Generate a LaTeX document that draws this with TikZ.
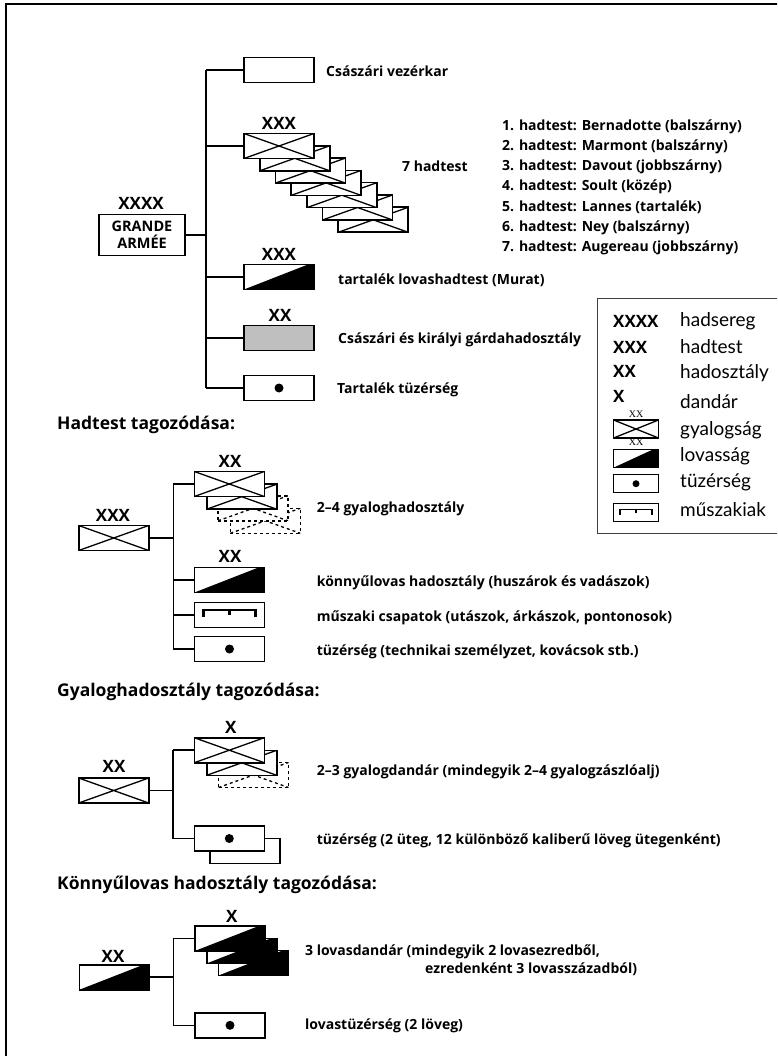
\documentclass[tikz,border=0pt]{standalone}
\usepackage{fontspec}
\setmainfont{Open Sans}
\newfontfamily\legfont{Lato}
\newfontfamily\smallserif{Liberation Serif}
\begin{document}
\begin{tikzpicture}[x=1pt,y=-1pt,
  conn/.style={line width=1.6pt},
  unitbox/.style={draw, line width=1.6pt, fill=white, minimum width=70pt, minimum height=25pt, inner sep=0pt, outer sep=0pt},
  legbox/.style={draw, line width=1.5pt, fill=white, minimum width=45pt, minimum height=18pt, inner sep=0pt, outer sep=0pt},
  infsym/.style={path picture={\draw[black, line width=1.3pt] (path picture bounding box.south west) -- (path picture bounding box.north east) (path picture bounding box.north west) -- (path picture bounding box.south east);}},
  dinfsym/.style={dashed, path picture={\draw[black, line width=1.3pt, dashed] (path picture bounding box.south west) -- (path picture bounding box.north east) (path picture bounding box.north west) -- (path picture bounding box.south east);}},
  cavsym/.style={path picture={\fill[black] (path picture bounding box.south west) -- ([xshift=-6pt]path picture bounding box.north east) -- (path picture bounding box.north east) -- (path picture bounding box.south east) -- cycle;}},
  artsym/.style={path picture={\fill[black] (path picture bounding box.center) circle (4.5pt);}},
  legartsym/.style={path picture={\fill[black] (path picture bounding box.center) circle (3.5pt);}},
  engsym/.style={path picture={\draw[black, line width=2.2pt] ([shift={(-26pt,-2pt)}]path picture bounding box.center) -- ([shift={(-26pt,5pt)}]path picture bounding box.center) -- ([shift={(26pt,5pt)}]path picture bounding box.center) -- ([shift={(26pt,-2pt)}]path picture bounding box.center); \draw[black, line width=2.2pt] ([shift={(0pt,5pt)}]path picture bounding box.center) -- ([shift={(0pt,0pt)}]path picture bounding box.center);}},
  legengsym/.style={path picture={\draw[black, line width=1.8pt] ([shift={(-16pt,-2pt)}]path picture bounding box.center) -- ([shift={(-16pt,3pt)}]path picture bounding box.center) -- ([shift={(16pt,3pt)}]path picture bounding box.center) -- ([shift={(16pt,-2pt)}]path picture bounding box.center); \draw[black, line width=1.8pt] ([shift={(0pt,3pt)}]path picture bounding box.center) -- ([shift={(0pt,0pt)}]path picture bounding box.center);}},
  ech/.style={font=\bfseries\fontsize{17}{20}\selectfont, inner sep=0pt},
  txt/.style={font=\bfseries\fontsize{14}{20}\selectfont, anchor=west, inner sep=0pt},
  head/.style={font=\bfseries\fontsize{17.5}{22}\selectfont, anchor=west, inner sep=0pt},
  legech/.style={font=\bfseries\fontsize{17}{20}\selectfont, anchor=west, inner sep=0pt},
  legtxt/.style={font=\legfont\fontsize{19}{22}\selectfont, anchor=west, inner sep=0pt},
  tinyx/.style={font=\smallserif\fontsize{10}{10}\selectfont, inner sep=0pt},
  gabox/.style={draw, line width=1.6pt, minimum width=86pt, minimum height=41pt, inner sep=0pt, align=center, font=\bfseries\fontsize{14.5}{16.5}\selectfont}
]
\useasboundingbox (0,0) rectangle (777,1056);
\clip (0,0) rectangle (777,1056);
% frame
\draw[line width=2pt] (6,1060) -- (6,4) -- (780,4);

% ===== Section 1 =====
\coordinate (t1) at (206,0);
\node[gabox] (ga) at (142,235) {GRANDE\\ARMÉE};
\node[ech] (gaech) at (141,203) {XXXX};
\node[unitbox] (cs) at (279,70) {};
\node[txt] (cst) at (326,71) {Császári vezérkar};
\foreach \i in {6,5,...,0} \node[unitbox,infsym] (c\i) at ({279+15.7*\i},{146+12.3*\i}) {};
\node[ech] (cech) at (279,123) {XXX};
\node[txt] (ct) at (402,166) {7 hadtest};
\node[txt] (l1) at (502,127) {1. hadtest: Bernadotte (balszárny)};
\node[txt] (l2) at (502,147) {2. hadtest: Marmont (balszárny)};
\node[txt] (l3) at (502,167) {3. hadtest: Davout (jobbszárny)};
\node[txt] (l4) at (502,187) {4. hadtest: Soult (közép)};
\node[txt] (l5) at (502,207) {5. hadtest: Lannes (tartalék)};
\node[txt] (l6) at (502,228) {6. hadtest: Ney (balszárny)};
\node[txt] (l7) at (502,248) {7. hadtest: Augereau (jobbszárny)};
\node[ech] (much) at (279,254) {XXX};
\node[unitbox,cavsym] (mu) at (279,277) {};
\node[txt] (mut) at (338,280) {tartalék lovashadtest (Murat)};
\node[ech] (gdch) at (280,315) {XX};
\node[unitbox,fill=gray!50] (gd) at (279,338) {};
\node[txt] (gdt) at (338,340) {Császári és királyi gárdahadosztály};
\node[unitbox,artsym] (tt) at (279,388) {};
\node[txt] (ttt) at (337,390) {Tartalék tüzérség};
\draw[conn] (t1 |- cs.west) -- (t1 |- tt.west);
\draw[conn] (ga.east) -- (t1 |- ga.east);
\foreach \n in {cs,c0,mu,gd,tt} \draw[conn] (t1 |- \n.west) -- (\n.west);

% ===== Section 2 =====
\node[head] (h2head) at (57,425) {Hadtest tagozódása:};
\coordinate (t2) at (173.3,0);
\node[ech] (h0ch) at (113,515) {XXX};
\node[unitbox,infsym] (h0) at (113.7,538) {};
\node[unitbox,dinfsym] (hd4) at (265.3,520.8) {};
\node[unitbox,dinfsym] (hd3) at (253,508.3) {};
\node[unitbox,infsym] (hi2) at (241.7,496.7) {};
\node[unitbox,infsym] (hi1) at (229.3,484) {};
\node[ech] (hi1ch) at (230,461.7) {XX};
\node[txt] (hit) at (316.7,509) {2–4 gyaloghadosztály};
\node[ech] (hcch) at (230,556.7) {XX};
\node[unitbox,cavsym] (hc) at (229.5,580) {};
\node[txt] (hct) at (316.7,583) {könnyűlovas hadosztály (huszárok és vadászok)};
\node[unitbox,engsym] (he) at (229.5,615) {};
\node[txt] (het) at (316.7,618) {műszaki csapatok (utászok, árkászok, pontonosok)};
\node[unitbox,artsym] (ha) at (229.5,649) {};
\node[txt] (hat) at (316.7,652) {tüzérség (technikai személyzet, kovácsok stb.)};
\draw[conn] (h0.east) -- (t2 |- h0.east);
\draw[conn] (t2 |- hi1.west) -- (t2 |- ha.west);
\foreach \n in {hi1,hc,he,ha} \draw[conn] (t2 |- \n.west) -- (\n.west);

% ===== Section 3 =====
\node[head] (g3head) at (57,692) {Gyaloghadosztály tagozódása:};
\coordinate (t3) at (173,0);
\node[ech] (g0ch) at (114,766.7) {XX};
\node[unitbox,infsym] (g0) at (113.7,790.5) {};
\node[unitbox,dinfsym] (gd3) at (253.5,775) {};
\node[unitbox,infsym] (gi2) at (241.7,762.8) {};
\node[unitbox,infsym] (gi1) at (229.3,750.2) {};
\node[ech] (gi1ch) at (230.7,727.3) {X};
\node[txt] (git) at (316.7,771.7) {2–3 gyalogdandár (mindegyik 2–4 gyalogzászlóalj)};
\node[unitbox] (ga2) at (244.7,850.8) {};
\node[unitbox,artsym] (ga1) at (229.3,838.5) {};
\node[txt] (gat) at (316.7,841) {tüzérség (2 üteg, 12 különböző kaliberű löveg ütegenként)};
\draw[conn] (g0.east) -- (t3 |- g0.east);
\draw[conn] (t3 |- gi1.west) -- (t3 |- ga1.west);
\foreach \n in {gi1,ga1} \draw[conn] (t3 |- \n.west) -- (\n.west);

% ===== Section 4 =====
\node[head] (k4head) at (57,885) {Könnyűlovas hadosztály tagozódása:};
\coordinate (t4) at (173.3,0);
\node[ech] (k0ch) at (113,956) {XX};
\node[unitbox,cavsym] (k0) at (114.5,977.2) {};
\node[unitbox,cavsym] (kc3) at (253.5,963) {};
\node[unitbox,cavsym] (kc2) at (242,950.8) {};
\node[unitbox,cavsym] (kc1) at (229.7,938.5) {};
\node[ech] (kc1ch) at (231.7,916.7) {X};
\node[txt] (kct1) at (305,951.7) {3 lovasdandár (mindegyik 2 lovasezredből,};
\node[txt] (kct2) at (425,969.3) {ezredenként 3 lovasszázadból)};
\node[unitbox,artsym] (ka) at (230,1025.3) {};
\node[txt] (kat) at (305,1026) {lovastüzérség (2 löveg)};
\draw[conn] (k0.east) -- (t4 |- k0.east);
\draw[conn] (t4 |- kc1.west) -- (t4 |- ka.west);
\foreach \n in {kc1,ka} \draw[conn] (t4 |- \n.west) -- (\n.west);

% ===== Legend =====
\draw[line width=1.2pt, black!75] (597.7,298.3) rectangle (800,533.3);
\node[legech] (e1) at (613,321.7) {XXXX};
\node[legech] (e2) at (613,347.3) {XXX};
\node[legech] (e3) at (613,371.7) {XX};
\node[legech] (e4) at (613,396) {X};
\node[tinyx] (sx1) at (636,414) {XX};
\node[legbox,infsym] (s1) at (636,429) {};
\node[tinyx] (sx2) at (636,442.7) {XX};
\node[legbox,cavsym] (s2) at (636,458.7) {};
\node[legbox,legartsym] (s3) at (636,483.7) {};
\node[legbox,legengsym] (s4) at (636,512.5) {};
\node[legtxt] (d1) at (680,321.7) {hadsereg};
\node[legtxt] (d2) at (680,347) {hadtest};
\node[legtxt] (d3) at (680,373) {hadosztály};
\node[legtxt] (d4) at (680,401.7) {dandár};
\node[legtxt] (d5) at (680,430) {gyalogság};
\node[legtxt] (d6) at (680,456.7) {lovasság};
\node[legtxt] (d7) at (680,482.7) {tüzérség};
\node[legtxt] (d8) at (680,510) {műszakiak};
\end{tikzpicture}
\end{document}
